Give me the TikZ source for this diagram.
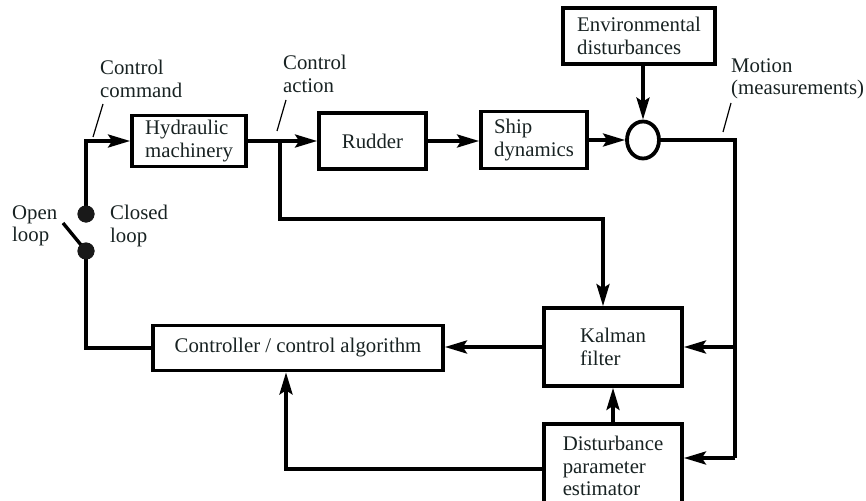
\documentclass[tikz,border=0pt]{standalone}
\usepackage{fontspec}
\setmainfont{Liberation Serif}
\usetikzlibrary{arrows.meta,shapes.geometric}
\definecolor{txt}{RGB}{24,34,34}
\tikzset{
  blk/.style={draw=black, line width=3.8pt, rectangle, inner sep=0pt, align=left,
    font=\fontsize{20.8}{22.5}\selectfont, text=txt},
  lbl/.style={inner sep=0pt, align=left, anchor=west,
    font=\fontsize{20.8}{22.5}\selectfont, text=txt},
  conn/.style={line width=3.4pt, draw=black},
  arr/.style={conn, -{Stealth[length=22pt,width=13pt,inset=4pt]}},
  dotnode/.style={circle, fill=black!90, minimum size=17pt, inner sep=0pt},
  leader/.style={line width=1.2pt, draw=black},
}
\begin{document}
\begin{tikzpicture}[x=1pt,y=-1pt]
\useasboundingbox (0,0) rectangle (866,500);
\clip (0,0) rectangle (866,500);
% blocks
\node[blk, minimum width=114pt, minimum height=51pt] (hyd) at (189,141) {Hydraulic\\machinery};
\node[blk, minimum width=107pt, minimum height=56pt] (rud) at (372.5,141) {Rudder};
\node[blk, minimum width=106pt, minimum height=57pt] (ship) at (534,140) {Ship\\dynamics};
\node[blk, minimum width=152pt, minimum height=56pt] (env) at (639,36) {Environmental\\disturbances};
\node[draw=black, line width=3.8pt, ellipse, minimum width=32pt, minimum height=37pt, inner sep=0pt] (sum) at (643,140) {};
\node[blk, minimum width=138pt, minimum height=78pt] (kal) at (613,347) {Kalman\\filter};
\node[blk, minimum width=138pt, minimum height=90pt] (dist) at (613,469) {};
\node[lbl, anchor=center] (disttxt) at (613,466) {Disturbance\\parameter\\estimator};
\node[blk, minimum width=290pt, minimum height=45pt] (ctrl) at (298,348) {Controller / control algorithm};
% switch dots
\node[dotnode] (d1) at (86,214) {};
\node[dotnode] (d2) at (86,251) {};
\coordinate (sw) at (63,223);
% labels
\node[lbl] (lcmd) at (100,79) {Control\\command};
\node[lbl] (lact) at (283,74) {Control\\action};
\node[lbl] (lopen) at (12,226) {Open\\loop};
\node[lbl] (lclosed) at (110,226) {Closed\\loop};
\node[lbl] (lmot) at (731,79) {Motion\\(measurements)};
% coordinates
\coordinate (b1) at (280,141);
\coordinate (t1) at (603,219);
\coordinate (o1) at (735,140);
\coordinate (o2) at (735,347);
\coordinate (o3) at (735,458);
\coordinate (t2) at (286,469);
% connectors
\draw[arr] (d1.center) -- (d1 |- hyd.west) -- (hyd.west);
\draw[arr] (hyd.east) -- (rud.west);
\draw[arr] (b1) |- (t1) -- (t1 |- kal.north);
\draw[arr] (rud.east) -- (ship.west |- rud.east);
\draw[arr] (ship.east |- sum.west) -- (sum.west);
\draw[arr] (sum.north |- env.south) -- (sum.north);
\draw[conn] (sum.east) -- (o1) -- (o3);
\draw[arr] (o2) -- (kal.east |- o2);
\draw[arr] (o3) -- (dist.east |- o3);
\draw[arr] (kal.west) -- (kal.west -| ctrl.east);
\draw[arr] (dist.north) -- (kal.south);
\draw[arr] (dist.west) -- (t2) -- (t2 |- ctrl.south);
\draw[conn] (d2.center) -- (d2 |- ctrl.west) -- (ctrl.west);
\draw[conn] (sw) -- (d2.center);
\node[dotnode] at (d1) {};
\node[dotnode] at (d2) {};
% leaders
\coordinate (c1a) at (103,104); \coordinate (c1b) at (93,137);
\coordinate (c2a) at (286,100); \coordinate (c2b) at (277,131);
\coordinate (c3a) at (731,103); \coordinate (c3b) at (723,132);
\draw[leader] (c1a) -- (c1b);
\draw[leader] (c2a) -- (c2b);
\draw[leader] (c3a) -- (c3b);
\end{tikzpicture}
\end{document}
